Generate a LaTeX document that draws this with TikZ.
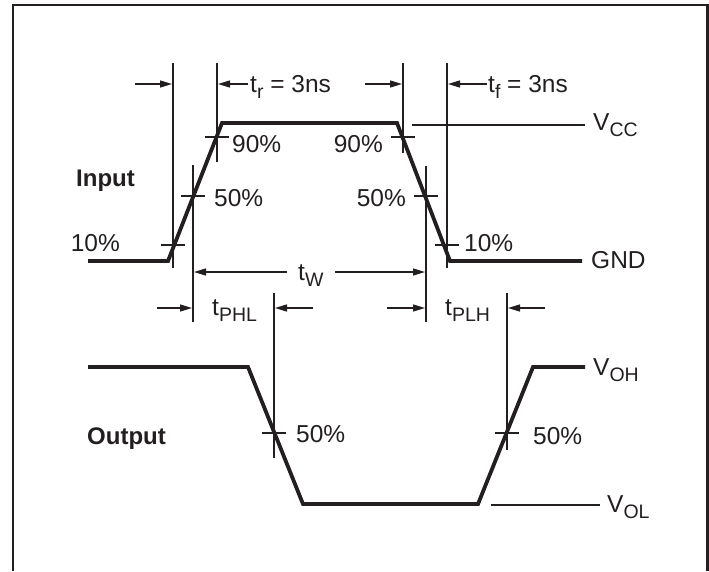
\documentclass[tikz,border=0pt]{standalone}
\usepackage{fontspec}
\setmainfont{Liberation Sans}
\usetikzlibrary{arrows.meta}
\newlength{\du}
\setlength{\du}{1pt}
\newcommand{\tsub}[1]{\raisebox{-6\du}{\fontsize{19.5}{20}\selectfont #1}}
\definecolor{linecolor}{rgb}{0.137,0.122,0.125}

\begin{document}
\begin{tikzpicture}[
  wave/.style={line width=3.8\du, line join=miter, draw=linecolor},
  guide/.style={line width=1.4\du, draw=linecolor},
  dimline/.style={guide, -{Triangle[length=12pt,width=7pt]}, shorten >=1\du},
  lbl/.style={inner sep=0pt, anchor=base west, text=linecolor, font=\fontsize{24.5}{28}\selectfont},
  lble/.style={lbl, anchor=base east},
  title/.style={lbl, font=\fontsize{24}{28}\selectfont\bfseries}]
\pgftransformyscale{-1.000000}
\useasboundingbox (0\du,0\du) rectangle (709\du,571\du);
% frame, open at the bottom
\draw[line width=2.6\du, draw=linecolor] (13\du,571\du) -- (13\du,5\du) -- (707.5\du,5\du) -- (707.5\du,571\du);
% input waveform
\coordinate (i0) at (88\du,261\du);
\coordinate (i1) at (168\du,261\du);
\coordinate (i2) at (222\du,123\du);
\coordinate (i3) at (397\du,123\du);
\coordinate (i4) at (450\du,261\du);
\coordinate (i5) at (582\du,261\du);
\draw[wave] (i0) -- (i1) -- (i2) -- (i3) -- (i4) -- (i5);
% output waveform
\coordinate (o0) at (88\du,367\du);
\coordinate (o1) at (248\du,367\du);
\coordinate (o2) at (303\du,504\du);
\coordinate (o3) at (478\du,504\du);
\coordinate (o4) at (533\du,367\du);
\coordinate (o5) at (585\du,367\du);
\draw[wave] (o0) -- (o1) -- (o2) -- (o3) -- (o4) -- (o5);
% level lines
\coordinate (vcc0) at (412\du,125\du);
\coordinate (vcc1) at (585\du,125\du);
\draw[guide] (vcc0) -- (vcc1);
\coordinate (vol0) at (491\du,505\du);
\coordinate (vol1) at (600\du,505\du);
\draw[guide] (vol0) -- (vol1);
% timing lines
\coordinate (rise10) at (173\du,63\du);
\coordinate (rise90) at (217\du,63\du);
\coordinate (fall90) at (403\du,63\du);
\coordinate (fall10) at (447\du,63\du);
\coordinate (rise50) at (193\du,165\du);
\coordinate (fall50) at (426\du,166\du);
\coordinate (outf50) at (274\du,293\du);
\coordinate (outr50) at (507\du,293\du);
\foreach \v/\yb in {rise10/268, rise90/162, fall90/153, fall10/268, rise50/322, fall50/322, outf50/458, outr50/450}
  \draw[guide] (\v) -- (\v |- 0,\yb\du);
% level ticks
\foreach \v/\y in {rise10/245, rise50/196, rise90/137, fall90/137, fall50/196, fall10/245, outf50/433, outr50/433}
  \draw[guide] (\v |- 0,\y\du) +(-12\du,0) -- +(12\du,0);
% dimension arrows
\coordinate (a1) at (135\du,84\du);
\coordinate (a2) at (248\du,84\du);
\coordinate (a3) at (365\du,84\du);
\coordinate (a4) at (487\du,84\du);
\coordinate (w1) at (287\du,272\du);
\coordinate (w2) at (335\du,272\du);
\coordinate (d1) at (157\du,308\du);
\coordinate (d2) at (313\du,308\du);
\coordinate (d3) at (387\du,308\du);
\coordinate (d4) at (545\du,308\du);
\foreach \s/\v in {a1/rise10, a2/rise90, a3/fall90, a4/fall10, w1/rise50, w2/fall50, d1/rise50, d2/outf50, d3/fall50, d4/outr50}
  \draw[dimline] (\s) -- (\s -| \v);
% labels
\node[lbl] (ltr) at (250\du,92\du) {t\tsub{r} = 3ns};
\node[lbl] (ltf) at (488\du,92\du) {t\tsub{f} = 3ns};
\node[lbl] (ltw) at (298\du,280\du) {t\tsub{W}};
\node[lbl] (ltphl) at (212\du,315\du) {t\tsub{PHL}};
\node[lbl] (ltplh) at (445\du,315\du) {t\tsub{PLH}};
\node[lble] (lten1) at (120\du,251\du) {10\%};
\node[lbl] (lnin1) at (232\du,152\du) {90\%};
\node[lble] (lnin2) at (383\du,152\du) {90\%};
\node[lbl] (lfif1) at (214\du,206\du) {50\%};
\node[lble] (lfif2) at (406\du,206\du) {50\%};
\node[lbl] (lten2) at (464\du,251\du) {10\%};
\node[lbl] (lvcc) at (593\du,130\du) {V\tsub{CC}};
\node[lbl] (lgnd) at (591\du,268\du) {GND};
\node[lbl] (lvoh) at (593\du,375\du) {V\tsub{OH}};
\node[lbl] (lvol) at (607\du,512\du) {V\tsub{OL}};
\node[lbl] (lfif3) at (296\du,442\du) {50\%};
\node[lbl] (lfif4) at (533\du,444\du) {50\%};
\node[title] (lin) at (76\du,186\du) {Input};
\node[title] (lout) at (87\du,444\du) {Output};
\end{tikzpicture}
\end{document}
